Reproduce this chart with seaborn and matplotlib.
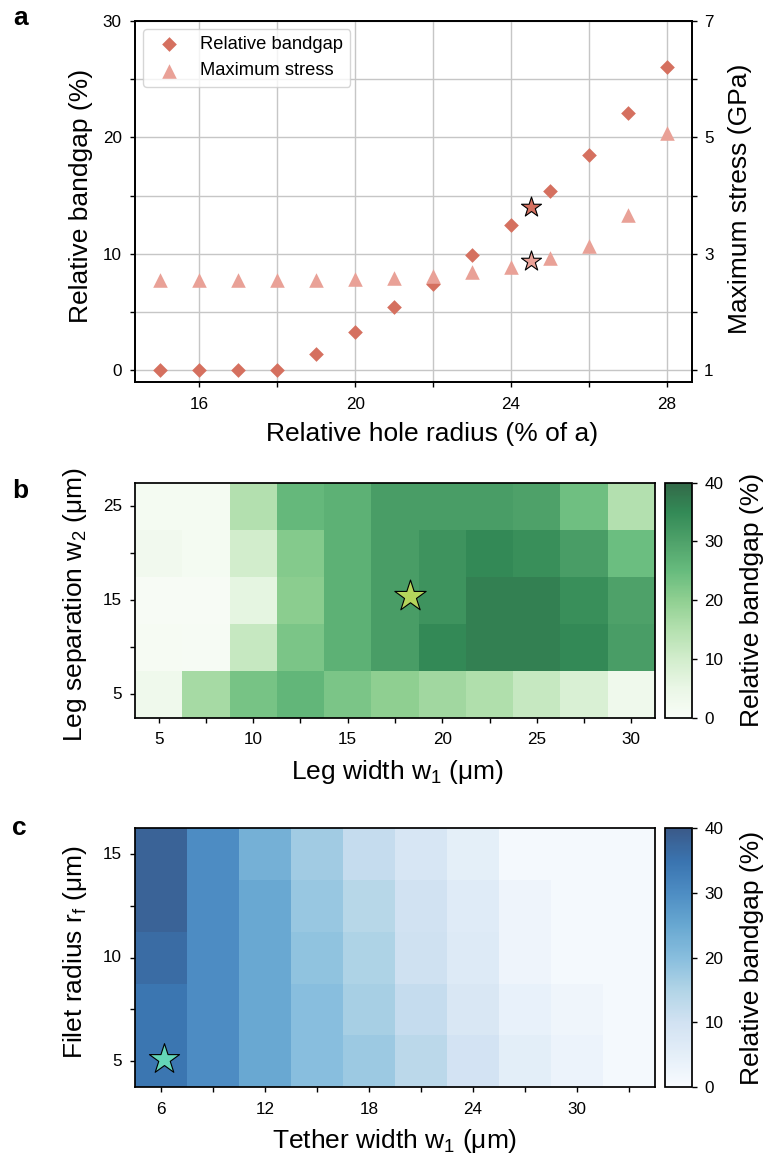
import numpy as np
import pandas as pd
import matplotlib
matplotlib.use("Agg")
import matplotlib.pyplot as plt
import seaborn as sns

# ---------------- data ----------------
# panel a
radius = [15, 16, 17, 18, 19, 20, 21, 22, 23, 24, 25, 26, 27, 28]
bandgap = [0, 0, 0, 0, 1.4, 3.3, 5.4, 7.4, 9.9, 12.5, 15.4, 18.5, 22.1, 26.0]
stress = [2.55, 2.55, 2.55, 2.55, 2.55, 2.56, 2.59, 2.62, 2.68, 2.78, 2.93, 3.14, 3.67, 5.08]
star_radius = [24.5]
star_bandgap = [14.05]
star_stress = [2.87]
a_xticks = [16, 18, 20, 22, 24, 26, 28]
a_xticklabels = ["16", "", "20", "", "24", "", "28"]
a_yticks = [0, 5, 10, 15, 20, 25, 30]
a_yticklabels = ["0", "", "10", "", "20", "", "30"]
a_y2ticks = [1, 2, 3, 4, 5, 6, 7]
a_y2ticklabels = ["1", "", "3", "", "5", "", "7"]

# panel b  (rows: leg separation w2 ascending; columns: leg width w1)
leg_width = [5, 7.5, 10, 12.5, 15, 17.5, 20, 22.5, 25, 27.5, 30]
leg_sep = [5, 10, 15, 20, 25]
gap_b = [
    [3, 17, 23, 26, 22.5, 20, 17.5, 15.5, 12, 8.5, 3],
    [1, 0.8, 12, 22.5, 27, 31, 35, 36.5, 36.5, 35, 31],
    [0.5, 0.5, 6, 20.5, 27, 31, 33, 36.5, 36.5, 34, 30],
    [2.5, 1.5, 10, 21.5, 27, 31, 33, 35, 34, 31, 24.5],
    [1.5, 1.5, 15, 25.5, 27, 31, 31, 31, 30, 24, 15],
]
b_xticklabels = ["5", "", "10", "", "15", "", "20", "", "25", "", "30"]
b_yticklabels = ["25", "", "15", "", "5"]   # top to bottom
star_b = (18.3, 15.4)

# panel c  (rows: fillet radius ascending; columns: tether width)
tether_width = [6, 9, 12, 15, 18, 21, 24, 27, 30, 33]
fillet_radius = [5, 7.5, 10, 12.5, 15]
gap_c = [
    [34.5, 30, 24.8, 20, 17.5, 13.5, 9.5, 5.2, 3, 1],
    [34.5, 30, 24.8, 20, 16.4, 12, 8, 4, 2.4, 1],
    [36.5, 30, 24.8, 19, 15.4, 10.4, 7, 2.8, 1, 1],
    [38, 30, 24.8, 18, 14.2, 10, 6.4, 2.8, 1, 1],
    [38, 30, 23, 17, 12, 8.4, 5, 1, 1, 1],
]
c_xticklabels = ["6", "", "12", "", "18", "", "24", "", "30", ""]
c_yticklabels = ["15", "", "10", "", "5"]   # top to bottom
star_c = (6.2, 5.1)

# ---------------- style ----------------
sns.set_theme(style="ticks")
plt.rcParams["font.family"] = ["Liberation Sans", "DejaVu Sans"]
plt.rcParams["mathtext.fontset"] = "custom"
plt.rcParams["mathtext.rm"] = "Liberation Sans"
plt.rcParams["mathtext.it"] = "Liberation Sans:italic"
plt.rcParams["text.color"] = "black"
plt.rcParams["axes.labelcolor"] = "black"
plt.rcParams["xtick.color"] = "black"
plt.rcParams["ytick.color"] = "black"

W, H = 770, 1158
fig = plt.figure(figsize=(W / 100, H / 100), dpi=100)

LABEL_FS = 19
TICK_FS = 12.3
SPINE_LW = 1.25
c_gap = "#d5705f"
c_str = "#e9a197"


def style_ticks(ax, xpad=7, ypad=6):
    ax.tick_params(axis="x", direction="out", length=3.6, width=1.0, labelsize=TICK_FS,
                   pad=xpad, colors="black")
    ax.tick_params(axis="y", direction="out", length=3.6, width=1.0, labelsize=TICK_FS,
                   pad=ypad, colors="black")


# ---------------- panel a ----------------
ax = fig.add_axes([135 / W, 1 - 382 / H, 557.3 / W, 361.3 / H])
ax2 = ax.twinx()

sns.scatterplot(x=radius, y=bandgap, marker="D", s=56, color=c_gap, linewidth=0,
                ax=ax, zorder=3)
sns.scatterplot(x=star_radius, y=star_bandgap, marker="*", s=230, color=c_gap,
                edgecolor="black", linewidth=0.8, ax=ax, zorder=4)
sns.scatterplot(x=radius, y=stress, marker="^", s=110, color=c_str, linewidth=0,
                ax=ax2, zorder=3)
sns.scatterplot(x=star_radius, y=star_stress, marker="*", s=230, color=c_str,
                edgecolor="black", linewidth=0.8, ax=ax2, zorder=4)

ax.set_xlim(14.35, 28.65)
ax.set_ylim(-1, 30)
ax2.set_ylim(0.8, 7)
ax.set_xticks(a_xticks)
ax.set_xticklabels(a_xticklabels)
ax.set_yticks(a_yticks)
ax.set_yticklabels(a_yticklabels)
ax2.set_yticks(a_y2ticks)
ax2.set_yticklabels(a_y2ticklabels)
ax.grid(True, color="#c6c6c6", linewidth=1.0)
ax.set_axisbelow(True)
style_ticks(ax)
style_ticks(ax2, ypad=5)
for a_ in (ax, ax2):
    for sp in a_.spines.values():
        sp.set_visible(True)
        sp.set_color("black")
        sp.set_linewidth(SPINE_LW)

ax.set_xlabel("Relative hole radius (% of a)", fontsize=LABEL_FS)
ax.xaxis.set_label_coords((432.5 - 135) / 557.3, -0.110)
ax.set_ylabel("Relative bandgap (%)", fontsize=LABEL_FS)
ax.yaxis.set_label_coords((93 - 135) / 557.3, 0.516)
ax2.set_ylabel("Maximum stress (GPa)", fontsize=LABEL_FS, rotation=90)
ax2.yaxis.set_label_coords((728 - 135) / 557.3, 0.508)

h1 = ax.collections[0]
h2 = ax2.collections[0]
leg = ax2.legend([h1, h2], ["Relative bandgap", "Maximum stress"], loc="upper left",
                 fontsize=13.2, frameon=True, framealpha=0.8, edgecolor="0.8",
                 fancybox=True, borderaxespad=0.45, handletextpad=0.7)

# ---------------- panel b ----------------
axb = fig.add_axes([135 / W, 1 - 717.7 / H, 520 / W, 235 / H])
caxb = fig.add_axes([665 / W, 1 - 717.7 / H, 26.7 / W, 235 / H])
df_b = pd.DataFrame(gap_b, index=leg_sep, columns=leg_width).iloc[::-1]
sns.heatmap(df_b, ax=axb, cbar_ax=caxb, cmap="Greens", vmin=0, vmax=40, alpha=0.8,
            xticklabels=b_xticklabels, yticklabels=b_yticklabels)
bx = [0.5 + (star_b[0] - leg_width[0]) / (leg_width[1] - leg_width[0])]
by = [0.5 + (leg_sep[-1] - star_b[1]) / (leg_sep[1] - leg_sep[0])]
axb.scatter(bx, by, marker="*", s=560, color="#b5d55c", edgecolor="black",
            linewidth=0.8, zorder=5)
axb.set_xlabel("Leg width w$_\\mathregular{1}$ (μm)", fontsize=LABEL_FS)
axb.xaxis.set_label_coords(0.505, -0.173)
axb.set_ylabel("Leg separation w$_\\mathregular{2}$ (μm)", fontsize=LABEL_FS)
axb.yaxis.set_label_coords((89.3 - 135) / 520, 0.48)

# ---------------- panel c ----------------
axc = fig.add_axes([135 / W, 1 - 1087 / H, 520 / W, 258.7 / H])
caxc = fig.add_axes([665 / W, 1 - 1087 / H, 26.7 / W, 258.7 / H])
df_c = pd.DataFrame(gap_c, index=fillet_radius, columns=tether_width).iloc[::-1]
sns.heatmap(df_c, ax=axc, cbar_ax=caxc, cmap="Blues", vmin=0, vmax=40, alpha=0.8,
            xticklabels=c_xticklabels, yticklabels=c_yticklabels)
cx = [0.5 + (star_c[0] - tether_width[0]) / (tether_width[1] - tether_width[0])]
cy = [0.5 + (fillet_radius[-1] - star_c[1]) / (fillet_radius[1] - fillet_radius[0])]
axc.scatter(cx, cy, marker="*", s=520, color="#64d6b8", edgecolor="black",
            linewidth=0.8, zorder=5)
axc.set_xlabel("Tether width w$_\\mathregular{1}$ (μm)", fontsize=LABEL_FS)
axc.xaxis.set_label_coords(0.5, -0.155)
axc.set_ylabel("Filet radius r$_\\mathregular{f}$ (μm)", fontsize=LABEL_FS)
axc.yaxis.set_label_coords((89.3 - 135) / 520, 0.52)

for hax, cax in ((axb, caxb), (axc, caxc)):
    for sp in hax.spines.values():
        sp.set_visible(True)
        sp.set_color("black")
        sp.set_linewidth(SPINE_LW)
    style_ticks(hax)
    hax.tick_params(axis="y", labelrotation=0)
    hax.tick_params(axis="x", labelrotation=0)
    cbar = hax.collections[0].colorbar
    cbar.outline.set_edgecolor("black")
    cbar.outline.set_linewidth(SPINE_LW)
    cbar.set_ticks([0, 10, 20, 30, 40])
    cax.tick_params(axis="y", direction="out", length=3.6, width=1.0,
                    labelsize=TICK_FS, pad=5.5, colors="black")
    cbar.set_label("Relative bandgap (%)", fontsize=LABEL_FS)
    cax.yaxis.set_label_coords((740 - 665) / 26.7, 0.5)

# ---------------- panel letters ----------------
fig.text(13 / W, 1 - 25 / H, "a", fontsize=19, fontweight="bold", va="baseline")
fig.text(12 / W, 1 - 498 / H, "b", fontsize=19, fontweight="bold", va="baseline")
fig.text(12 / W, 1 - 835 / H, "c", fontsize=19, fontweight="bold", va="baseline")

fig.savefig("out.png", dpi=100)
